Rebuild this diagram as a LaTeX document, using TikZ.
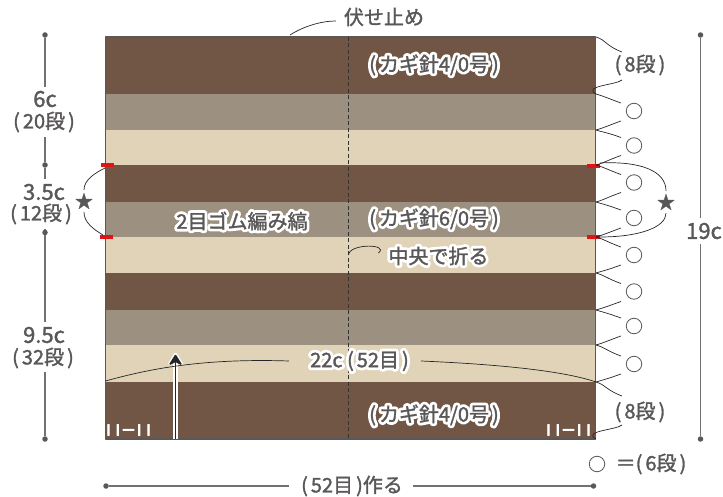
\documentclass[tikz,border=0pt]{standalone}
\usepackage{fontspec}
\usetikzlibrary{arrows.meta}
\setmainfont{Noto Sans CJK JP}[FakeBold=1.5]
\newfontfamily\halofont{Noto Sans CJK JP}[FakeBold=30]
\newfontfamily\ribfont{Noto Sans CJK JP}[FakeBold=6]
\definecolor{darkband}{HTML}{725645}
\definecolor{greyband}{HTML}{9C9080}
\definecolor{paleband}{HTML}{E0D3B8}
\definecolor{inkgrey}{HTML}{595757}
\definecolor{tickred}{HTML}{DF1419}
\newcommand{\halo}[1]{\rlap{\color{white}\halofont #1}#1}
\newcommand{\lp}{(\kern3pt}
\newcommand{\rp}{\kern3pt)}
\newcommand{\ribmark}{I\kern5pt I\kern1pt －\kern1pt I\kern5pt I}

\begin{document}
\begin{tikzpicture}[
x=1pt, y=-1pt, line join=round, miter limit=1,
textlabel/.style={text=inkgrey, inner sep=0pt, font=\fontsize{20}{22}\selectfont},
sizelabel/.style={text=inkgrey, inner sep=0pt, font=\fontsize{22}{24}\selectfont},
ribtext/.style={text=white, inner sep=0pt, font=\fontsize{15}{16}\ribfont},
starmark/.style={text=inkgrey, inner sep=0pt, font=\fontsize{18}{20}\selectfont},
dimline/.style={draw=inkgrey!85, line width=1.3pt},
dimdot/.style={circle, fill=inkgrey, inner sep=0pt, minimum size=5.5pt},
thinline/.style={draw=black!85, line width=0.7pt},
loopmark/.style={circle, draw=inkgrey, fill=white, line width=0.8pt, inner sep=0pt, minimum size=15.5pt},
redtick/.style={fill=tickred, draw=none, inner sep=0pt, minimum width=13pt, minimum height=4pt},
]
\useasboundingbox (0,0) rectangle (723,497);

%Bands
\fill[darkband] (105.5,37) rectangle (595.5,94);
\fill[greyband] (105.5,94) rectangle (595.5,130);
\fill[paleband] (105.5,130) rectangle (595.5,165);
\fill[darkband] (105.5,165) rectangle (595.5,202);
\fill[greyband] (105.5,202) rectangle (595.5,237);
\fill[paleband] (105.5,237) rectangle (595.5,273);
\fill[darkband] (105.5,273) rectangle (595.5,310);
\fill[greyband] (105.5,310) rectangle (595.5,345);
\fill[paleband] (105.5,345) rectangle (595.5,382);
\fill[darkband] (105.5,382) rectangle (595.5,439);
\draw[inkgrey, line width=1.5pt] (105.5,37) rectangle (595.5,439);

%Coordinates
\coordinate (e0) at (596,37);
\coordinate (e1) at (596,94);
\coordinate (e2) at (596,130);
\coordinate (e3) at (596,165);
\coordinate (e4) at (596,202);
\coordinate (e5) at (596,237);
\coordinate (e6) at (596,273);
\coordinate (e7) at (596,310);
\coordinate (e8) at (596,345);
\coordinate (e9) at (596,382);
\coordinate (e10) at (596,439);
\coordinate (w9) at (105.5,381);
\coordinate (foldtop) at (348.5,37);
\coordinate (foldbot) at (348.5,438);
\coordinate (bindedge) at (290,35);
\coordinate (foldpt) at (348.5,255);
\coordinate (arrowbot) at (175.5,439);
\coordinate (arrowtip) at (175.5,351);

%Fold line and arrow
\draw[black!80, line width=0.8pt, dash pattern=on 4pt off 2.5pt] (foldtop) -- (foldbot);
\draw[white, line width=4.5pt, -{Stealth[length=17pt,width=20pt]}] (arrowbot) -- (arrowtip);
\draw[black!85, line width=1.4pt, -{Stealth[length=12pt,width=15pt]}] (arrowbot) -- ([yshift=-3pt]arrowtip);

%Nodes
\node[textlabel] (bind)   at (384,17)  {伏せ止め};
\node[sizelabel] (six)    at (45,99)   {6c};
\node[textlabel] (sixr)   at (44,122)  {\lp 20段\rp};
\node[sizelabel] (three)  at (44,192)  {3.5c};
\node[textlabel] (threer) at (41,214)  {\lp 12段\rp};
\node[sizelabel] (nine)   at (44,335)  {9.5c};
\node[textlabel] (niner)  at (43,358)  {\lp 32段\rp};
\node[sizelabel] (total)  at (704,231) {19c};
\node[textlabel] (cast)   at (352,486) {\lp 52目\rp 作る};
\node[textlabel] (topr)   at (640,65)  {\lp 8段\rp};
\node[textlabel] (botr)   at (640,412) {\lp 8段\rp};
\node[textlabel] (legend) at (651,464) {＝\lp 6段\rp};
\node[loopmark] (legc) at (597,464) {};

\node[textlabel] (hooka)  at (434,65)  {\halo{\lp カギ針4/0号\rp}};
\node[textlabel] (hookb)  at (434,219) {\halo{\lp カギ針6/0号\rp}};
\node[textlabel] (hookc)  at (434,415) {\halo{\lp カギ針4/0号\rp}};
\node[textlabel] (rib)    at (242,221) {\halo{2目ゴム編み縞}};
\node[textlabel] (fold)   at (438.5,256) {\halo{中央で折る}};
\node[textlabel] (width)  at (359.5,361) {\halo{22c \lp 52目\rp}};

\node[ribtext] (ribl) at (128.5,430) {\ribmark};
\node[ribtext] (ribr) at (568.5,430) {\ribmark};

\node[starmark] (starl) at (84,201) {★};
\node[starmark] (starr) at (666,202) {★};

\node[loopmark] (c1) at (634,111) {};
\node[loopmark] (c2) at (634,145.5) {};
\node[loopmark] (c3) at (634,182.5) {};
\node[loopmark] (c4) at (634,218) {};
\node[loopmark] (c5) at (634,255) {};
\node[loopmark] (c6) at (634,291.5) {};
\node[loopmark] (c7) at (634,326) {};
\node[loopmark] (c8) at (634,364) {};

\node[dimdot] (l0) at (45,35) {};
\node[dimdot] (l1) at (45,165) {};
\node[dimdot] (l2) at (45,232.5) {};
\node[dimdot] (l3) at (45,439) {};
\node[dimdot] (r0) at (700.5,35) {};
\node[dimdot] (r1) at (700.5,439) {};
\node[dimdot] (b0) at (106,486) {};
\node[dimdot] (b1) at (593.5,486) {};

\node[redtick] (tl1) at (107,165) {};
\node[redtick] (tl2) at (106.5,237) {};
\node[redtick] (tr1) at (593.5,166) {};
\node[redtick] (tr2) at (593,237) {};

%Lines
\draw[dimline] (l0) -- ([yshift=4pt]six.north -| l0);
\draw[dimline] ([yshift=-4pt]sixr.south -| l0) -- (l1);
\draw[dimline] (l1) -- ([yshift=5pt]three.north -| l0);
\draw[dimline] ([yshift=-4pt]threer.south -| l0) -- (l2);
\draw[dimline] (l2) -- ([yshift=5pt]nine.north -| l0);
\draw[dimline] ([yshift=-3pt]niner.south -| l0) -- (l3);
\draw[dimline] (r0) -- ([yshift=5pt]total.north -| r0);
\draw[dimline] ([yshift=-5pt]total.south -| r0) -- (r1);
\draw[dimline] (b0) -- ([xshift=-12pt]cast.west);
\draw[dimline] ([xshift=10pt]cast.east) -- (b1);

\draw[thinline] (bindedge) .. controls +(14,-9) and +(-14,0) .. ([xshift=-8pt,yshift=-4pt]bind.west);
\draw[thinline] (foldpt) .. controls +(1,-12) and +(12,-9) .. ([xshift=-10pt,yshift=3pt]fold.west);
\draw[thinline] (w9) .. controls +(40,-11) and +(-90,-3) .. ([xshift=-21pt]width.west);
\draw[thinline] ([xshift=12pt]width.east) .. controls +(70,3) and +(-35,-12) .. (e9);

\draw[thinline] (e0) .. controls +(10,3) and +(-16,-6) .. (622,52);
\draw[thinline] (622,80) .. controls +(-6,5) and +(-14,-8) .. (e1);
\foreach \up/\low/\mk in {e1/e2/c1, e2/e3/c2, e3/e4/c3, e4/e5/c4, e5/e6/c5, e6/e7/c6, e7/e8/c7, e8/e9/c8}{
  \draw[thinline] (\up) .. controls +(10,3) and +(-14,-5) .. ([xshift=-13pt,yshift=8pt]\mk.center);
  \draw[thinline] ([xshift=-13pt,yshift=-10pt]\mk.center) .. controls +(-14,5) and +(10,-3) .. (\low);
}
\draw[thinline] (e9) .. controls +(10,3) and +(-16,-6) .. (622,396);
\draw[thinline] (622,425) .. controls +(-6,5) and +(-14,-8) .. (e10);

\draw[thinline] ([yshift=3pt]tr1.east) .. controls +(40,-2) and +(0,-20) .. ([yshift=3pt]starr.north);
\draw[thinline] (tr2.east) .. controls +(40,0) and +(0,14) .. ([yshift=-3pt]starr.south);
\draw[thinline] (105,168) .. controls +(-10,5) and +(0,-10) .. ([yshift=3pt]starl.north);
\draw[thinline] (103,235) .. controls +(-10,-6) and +(0,10) .. ([yshift=-3pt]starl.south);

\end{tikzpicture}
\end{document}
